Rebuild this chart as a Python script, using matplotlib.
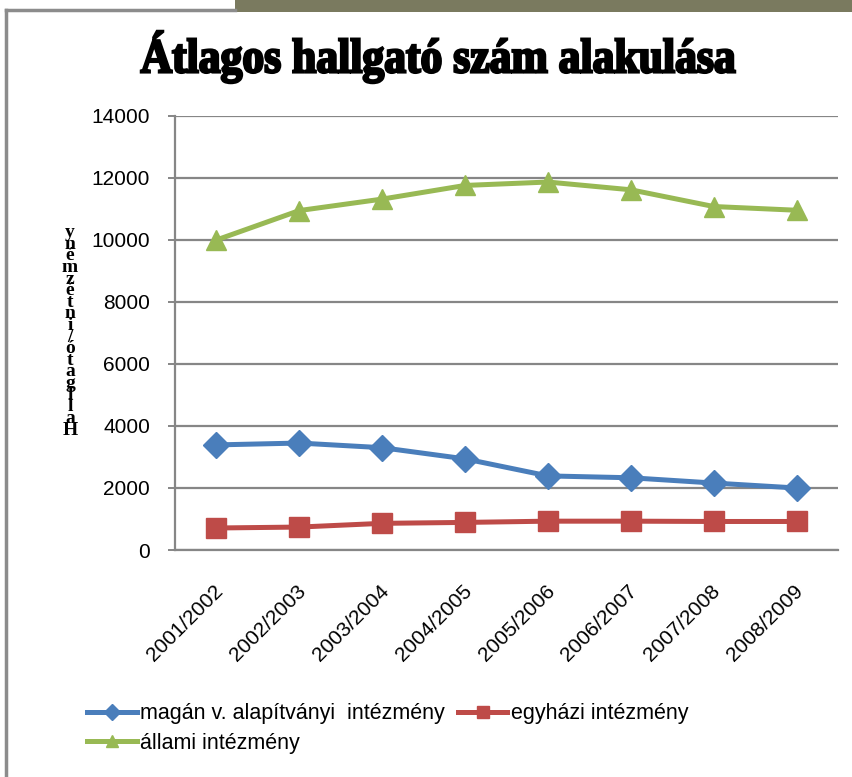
import matplotlib.pyplot as plt
import matplotlib.patches as patches
from matplotlib.textpath import TextPath
from matplotlib.font_manager import FontProperties
from matplotlib.transforms import Affine2D
from matplotlib.lines import Line2D

W = 852
H = 777

years = ["2001/2002", "2002/2003", "2003/2004", "2004/2005",
         "2005/2006", "2006/2007", "2007/2008", "2008/2009"]
magan = [3390, 3450, 3300, 2940, 2390, 2330, 2160, 2000]
egyhazi = [710, 740, 860, 890, 930, 930, 920, 920]
allami = [10000, 10950, 11320, 11760, 11870, 11620, 11080, 10960]

labels = ["magán v. alapítványi  intézmény", "egyházi intézmény", "állami intézmény"]
colors = ["#4A7EBB", "#BE4B48", "#98B954"]
markers = ["D", "s", "^"]

fig = plt.figure(figsize=(W / 100, H / 100), dpi=100)
pix = Affine2D().scale(1.0 / W, 1.0 / H) + fig.transFigure

# frame decoration (slide background)
fig.add_artist(patches.Rectangle((235, H - 12), W - 235, 12, transform=pix,
                                 color="#7A7A5F", lw=0))
fig.add_artist(Line2D([6, 6], [0, H - 10], transform=pix, color="#8C8C8C", lw=2.5))
fig.add_artist(Line2D([6, 235], [H - 10, H - 10], transform=pix, color="#8C8C8C", lw=2.5))

# title, squeezed to the reference width
title = "Átlagos hallgató szám alakulása"
tp = TextPath((0, 0), title, size=1, prop=FontProperties(family="Liberation Serif", weight="bold"))
ext = tp.get_extents()
x0, x1, ytop, ybot = 141, 735, 31, 83
sx = (x1 - x0) / ext.width
sy = (ybot - ytop) / ext.height
tr = Affine2D().translate(-ext.x0, -ext.y0).scale(sx, sy).translate(x0, H - ybot) + pix
fig.add_artist(patches.PathPatch(tp, transform=tr, color="black", lw=1.8))

ax = fig.add_axes([175 / W, 1 - 550 / H, 663 / W, 434 / H])
x = list(range(len(years)))
for vals, lab, c, m in zip([magan, egyhazi, allami], labels, colors, markers):
    ms = 13 if m == "D" else 14
    ax.plot(x, vals, color=c, lw=3.6, marker=m, markersize=ms, label=lab,
            solid_joinstyle="round", zorder=3)

ax.set_xlim(-0.5, 7.5)
ax.set_ylim(0, 14000)
ax.set_yticks(range(0, 14001, 2000))
ax.yaxis.grid(True, color="#868686", lw=1.6)
ax.set_axisbelow(True)
for s in ["top", "right"]:
    ax.spines[s].set_visible(False)
ax.spines["left"].set_color("#868686")
ax.spines["bottom"].set_color("#868686")
ax.spines["left"].set_linewidth(1.6)
ax.spines["bottom"].set_linewidth(1.6)
ax.tick_params(axis="y", length=5, width=1.4, color="#868686", labelsize=15, pad=13)
ax.tick_params(axis="x", length=0, pad=8)
ax.set_xticks(x)
ax.set_xticklabels(years, rotation=45, ha="right", rotation_mode="anchor",
                   fontsize=15, family="Liberation Sans")
for t in ax.get_yticklabels():
    t.set_family("Liberation Sans")
for t in ax.get_xticklabels():
    t.set_transform(t.get_transform() + Affine2D().translate(-3, -20))

# stacked y-axis title
ylab = "Hallgató/intézmény"
for i, ch in enumerate(ylab):
    fig.text(70 / W, 1 - (430 - i * 11.6) / H, ch, ha="center", va="center",
             fontsize=14, family="Liberation Serif", weight="bold")

h = ax.get_legend_handles_labels()[0]
leg = fig.legend([h[0], h[2], h[1]], [labels[0], labels[2], labels[1]], ncol=2,
                 loc="upper left", bbox_to_anchor=(68 / W, 1 - 684 / H), frameon=False,
                 prop=FontProperties(family="Liberation Sans", size=15.5),
                 handlelength=2.3, handletextpad=0.15, columnspacing=0.6,
                 labelspacing=0.4, markerscale=0.6)

fig.savefig("out.png", dpi=100)
